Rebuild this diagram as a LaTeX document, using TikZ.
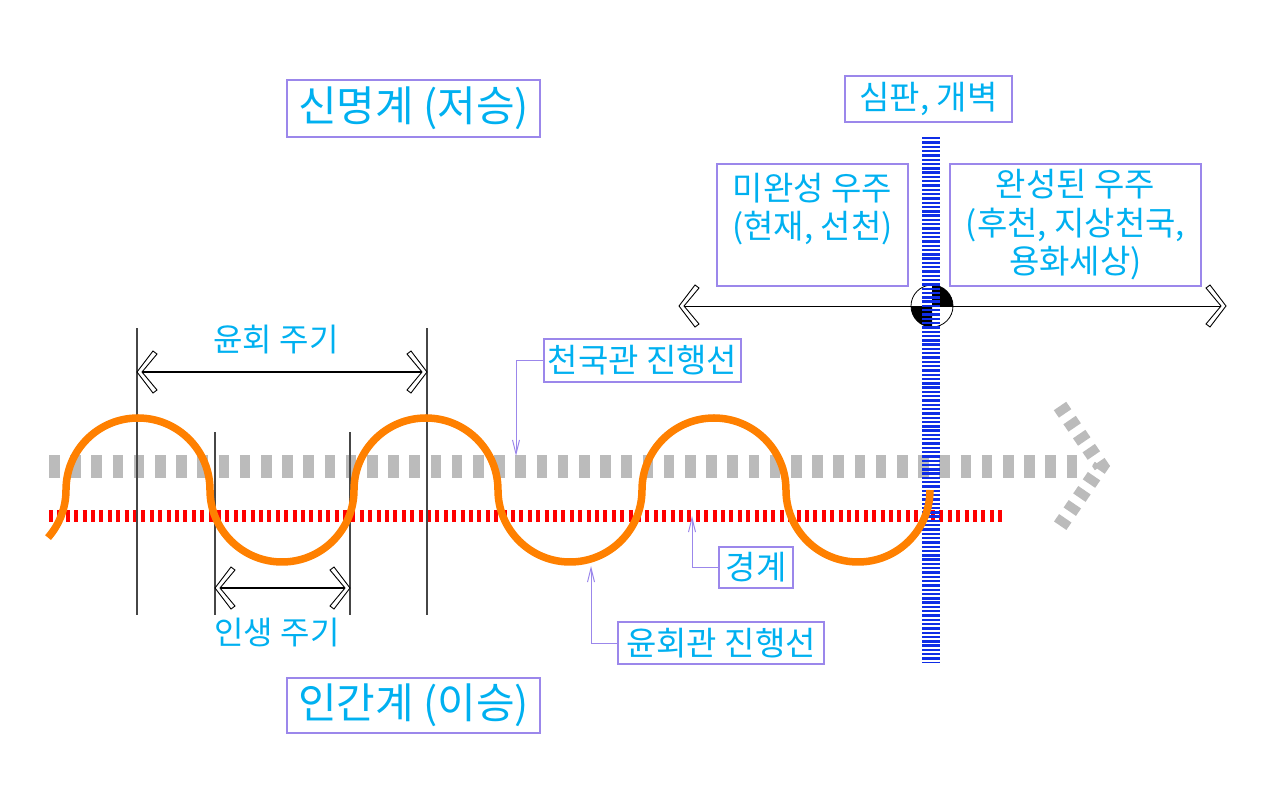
\documentclass[tikz,border=0pt]{standalone}
\usepackage{fontspec}
\usetikzlibrary{arrows.meta}
\newfontfamily\krfont{Noto Sans CJK KR}

\definecolor{skyblue}{RGB}{0,176,240}
\definecolor{lavender}{RGB}{155,135,235}
\definecolor{ashgray}{RGB}{187,187,187}
\definecolor{waveorange}{RGB}{255,128,0}
\definecolor{barblue}{RGB}{15,45,230}
\definecolor{rulegray}{RGB}{70,70,70}

\begin{document}
\begin{tikzpicture}[
    x=1pt, y=-1pt,
    box/.style={draw=lavender, line width=1.2pt, text=skyblue, align=center,
        inner sep=0pt, font=\krfont\fontsize{33}{38.5}\selectfont},
    bigbox/.style={box, font=\krfont\fontsize{42}{48}\selectfont},
    label/.style={text=skyblue, inner sep=0pt, font=\krfont\fontsize{32}{38}\selectfont},
    lead/.style={draw=lavender, line width=1pt, -{Straight Barb[length=14pt, width=7pt]}},
    tick/.style={rulegray, line width=1.5pt},
    chev/.pic={\draw[line width=0.9pt, fill=white]
        (0,0) -- (16,-21) -- (20,-18) -- (5,0) -- (20,18) -- (16,21) -- cycle;}
]
    \useasboundingbox (0,0) rectangle (1280,803);

    % Coordinates
    \coordinate (grayL)  at (49, 466);
    \coordinate (grayR)  at (1080, 466);
    \coordinate (redL)   at (49, 516);
    \coordinate (redR)   at (1005, 516);
    \coordinate (barTop) at (931, 137);
    \coordinate (barBot) at (931, 663);
    \coordinate (axL)    at (679, 306);
    \coordinate (axR)    at (1226, 306);

    \coordinate (gA)   at (1060, 406);
    \coordinate (gTip) at (1101, 466);
    \coordinate (gB)   at (1060, 526);

    % Heaven line (gray) and boundary (red)
    \draw[ashgray, line width=23pt, dash pattern=on 10.6pt off 10.6pt] (grayL) -- (grayR);
    \draw[ashgray, line width=15pt, dash pattern=on 9pt off 8pt] (gA) -- (gTip) -- (gB);
    \draw[red, line width=12pt, dash pattern=on 4pt off 4.4pt] (redL) -- (redR);

    % Cycle rulers
    \draw[tick] (137, 328) -- (137, 615);
    \draw[tick] (427, 328) -- (427, 615);
    \draw[tick] (215, 432) -- (215, 615);
    \draw[tick] (350, 432) -- (350, 615);

    \coordinate (cycL) at (137, 372);
    \coordinate (cycR) at (427, 372);
    \coordinate (lifeL) at (215, 588);
    \coordinate (lifeR) at (350, 588);

    \draw[line width=1.2pt] (cycL) -- (cycR);
    \pic at (cycL) {chev};
    \pic[rotate=180] at (cycR) {chev};
    \draw[line width=1.2pt] (lifeL) -- (lifeR);
    \pic at (lifeL) {chev};
    \pic[rotate=180] at (lifeR) {chev};

    \node[label] (cyc)  at (276, 340) {윤회 주기};
    \node[label] (life) at (277, 633) {인생 주기};

    % Judgement point on the time axis
    \fill (932, 306) -- (932, 285) arc[start angle=270, end angle=360, radius=21] -- cycle;
    \fill (932, 306) -- (932, 327) arc[start angle=90, end angle=180, radius=21] -- cycle;
    \node[circle, draw, line width=0.8pt, minimum size=42pt, inner sep=0pt] (judge) at (932, 306) {};
    \draw[line width=1pt] (axL) -- (axR);
    \pic at (axL) {chev};
    \pic[rotate=180] at (axR) {chev};

    \draw[barblue, line width=18pt, dash pattern=on 2.4pt off 1.9pt] (barTop) -- (barBot);

    % Samsara wave (orange)
    \draw[waveorange, line width=7.5pt]
        (48, 537.6) arc[start angle=41.4, end angle=0, radius=72]
        arc[start angle=180, end angle=360, radius=72]
        arc[start angle=180, end angle=0, radius=72]
        arc[start angle=180, end angle=360, radius=72]
        arc[start angle=180, end angle=0, radius=72]
        arc[start angle=180, end angle=360, radius=72]
        arc[start angle=180, end angle=0, radius=72];

    % Boxes
    \node[bigbox, minimum width=253pt, minimum height=57pt] (spirit) at (413.5, 108.5) {신명계 (저승)};
    \node[bigbox, minimum width=253pt, minimum height=55pt] (human) at (413.5, 705.5) {인간계 (이승)};
    \node[box, minimum width=167pt, minimum height=46pt] (judgebox) at (928.5, 99) {심판, 개벽};
    \node[box, minimum width=191pt, minimum height=122pt] (incomplete) at (812.5, 225)
        {미완성 우주\\(현재, 선천)\\\mbox{}};
    \node[box, minimum width=251pt, minimum height=122pt] (complete) at (1075.5, 225)
        {완성된 우주\\(후천, 지상천국,\\용화세상)};
    \node[box, minimum width=197pt, minimum height=43pt] (heaven) at (642.5, 360.5) {천국관 진행선};
    \node[box, minimum width=74pt, minimum height=41pt] (bound) at (756, 567.5) {경계};
    \node[box, minimum width=206pt, minimum height=42pt] (samsara) at (721, 643) {윤회관 진행선};

    % Leaders
    \coordinate (heavenTip)  at (516, 456);
    \coordinate (boundTip)   at (692, 516);
    \coordinate (samsaraTip) at (591, 566);
    \draw[lead] (heaven.west) -| (heavenTip);
    \draw[lead] (bound.west) -| (boundTip);
    \draw[lead] (samsara.west) -| (samsaraTip);

\end{tikzpicture}
\end{document}
